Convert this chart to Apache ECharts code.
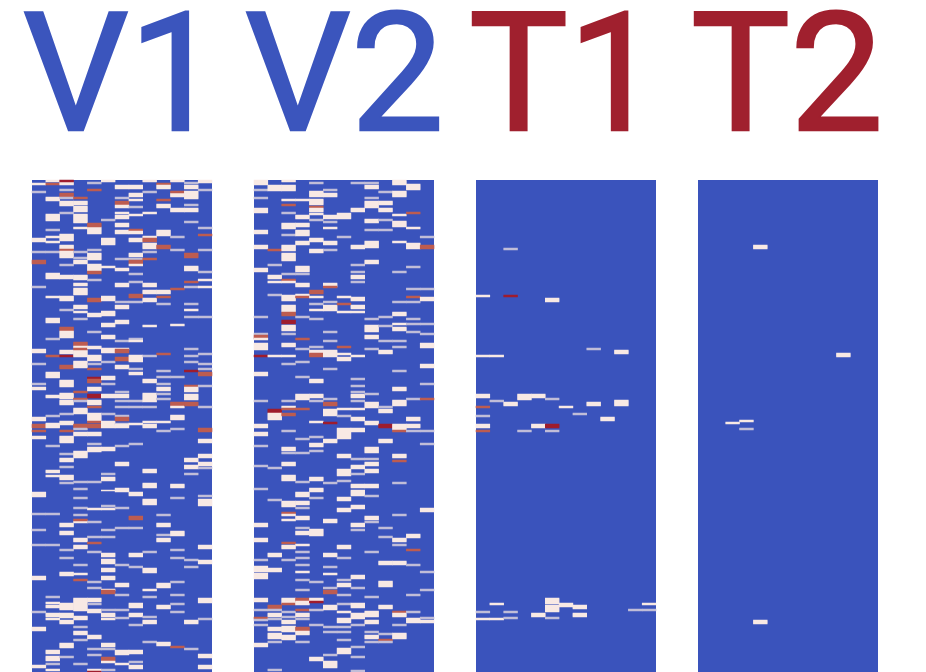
<!DOCTYPE html>
<html><head><meta charset="utf-8">
<style>html,body{margin:0;padding:0;background:#fff}#c{width:926px;height:672px;filter:blur(0.6px)}</style>
<script src="https://cdn.jsdelivr.net/npm/echarts@6/dist/echarts.min.js"></script>
</head><body><div id="c"></div>
<script>
// cell levels
const P=0.5,G=0.35,R=0.75,D=1;
const panelNames=['V1','V2','T1','T2'];
const columnCount=13, rowCount=492;
// each column: [firstRow, rowSpan, level]
const v1=[
[[3,2,P],[11,2,G],[58,4,P],[71,2,G],[80,4,R],[106,2,G],[169,4,P],[183,2,G],[203,2,G],[207,3,P],[237,4,P],[244,4,R],[250,2,R],[256,3,P],[312,5,P],[333,2,G],[349,2,G],[364,2,G],[396,4,P],[431,2,G],[447,4,P],[485,3,P]],
[[0,2,P],[3,2,R],[17,4,P],[34,7,P],[49,2,G],[56,2,P],[61,2,P],[71,2,G],[93,6,P],[116,2,P],[138,5,P],[158,2,G],[175,2,R],[192,6,P],[215,3,P],[235,2,G],[243,5,P],[265,2,G],[290,3,P],[295,2,P],[333,2,G],[364,2,G],[416,2,G],[422,2,P],[425,3,P],[433,4,P],[438,2,P],[470,4,P],[476,5,P],[483,2,G],[489,2,P]],
[[2,3,P],[0,2,D],[9,2,G],[13,4,R],[17,2,G],[21,5,P],[32,2,G],[54,7,P],[65,4,P],[69,2,R],[71,7,P],[84,2,G],[95,4,P],[116,5,P],[129,2,G],[147,4,R],[151,4,P],[155,3,P],[170,4,P],[175,2,D],[185,4,R],[200,7,P],[213,6,P],[220,5,P],[233,2,G],[241,4,P],[250,2,R],[256,7,P],[273,2,G],[278,4,P],[286,2,G],[295,5,P],[302,2,G],[343,4,P],[351,4,P],[369,2,G],[377,2,G],[392,4,P],[423,7,P],[433,5,P],[440,4,P],[463,5,P],[476,2,G]],
[[17,2,R],[21,4,P],[26,6,P],[34,9,P],[47,2,P],[71,2,G],[77,2,G],[80,4,P],[95,5,P],[103,3,P],[108,7,P],[125,4,P],[131,2,P],[138,2,G],[162,4,R],[166,2,P],[170,4,P],[168,2,R],[174,3,P],[181,7,P],[211,2,R],[218,2,R],[220,2,G],[228,6,P],[244,4,R],[248,2,G],[252,4,P],[271,7,P],[301,2,G],[308,2,G],[317,2,G],[327,2,G],[334,2,G],[341,2,P],[339,2,R],[358,4,P],[365,4,P],[384,2,G],[393,2,P],[399,2,R],[418,13,P],[436,4,P],[446,2,G],[451,4,P],[459,2,G],[483,2,G]],
[[2,2,G],[9,2,R],[47,7,P],[43,4,R],[69,2,G],[73,7,P],[84,7,P],[91,3,R],[99,2,G],[118,4,R],[133,4,P],[151,2,G],[166,3,P],[175,6,P],[183,2,G],[188,2,R],[197,2,D],[199,4,R],[207,4,P],[214,4,D],[220,5,P],[226,2,R],[233,8,P],[241,2,R],[244,4,R],[252,4,P],[263,2,G],[267,5,P],[301,2,G],[328,2,P],[341,2,G],[356,2,G],[362,2,R],[371,2,G],[401,2,G],[407,2,G],[418,4,P],[423,2,G],[429,4,P],[455,4,P],[468,2,G],[474,2,G],[489,2,P],[491,1,D]],
[[0,2,P],[39,2,G],[58,7,P],[86,2,P],[116,5,P],[131,5,P],[143,4,P],[155,4,P],[168,5,P],[181,2,G],[196,4,P],[203,2,G],[214,4,P],[233,2,G],[241,7,P],[267,4,P],[293,2,G],[297,4,P],[310,1,P],[325,2,G],[328,2,P],[349,2,G],[356,2,G],[373,4,P],[379,5,P],[388,4,P],[396,4,P],[409,2,P],[410,4,R],[429,2,G],[433,4,P],[438,2,P],[463,4,P],[468,2,G],[477,4,R],[481,2,P],[489,2,G]],
[[5,4,P],[17,2,G],[21,4,R],[25,3,P],[32,2,P],[35,4,P],[43,4,P],[50,4,P],[78,2,G],[88,3,P],[103,4,P],[121,2,G],[125,4,P],[140,4,P],[160,2,G],[168,2,P],[169,4,R],[177,4,R],[185,4,P],[211,2,G],[214,4,P],[220,2,G],[226,2,G],[235,2,G],[237,4,R],[243,2,G],[244,4,P],[265,2,G],[282,4,P],[308,4,P],[327,2,G],[347,2,G],[384,2,G],[403,4,P],[414,2,G],[429,2,G],[437,2,G],[470,5,P],[483,2,P]],
[[5,4,P],[13,4,P],[19,2,P],[26,2,G],[34,2,P],[49,2,R],[51,3,P],[58,4,P],[73,4,P],[78,2,G],[80,4,R],[84,2,P],[93,2,G],[101,2,G],[114,4,R],[121,2,G],[158,2,G],[160,2,P],[175,7,P],[188,2,G],[192,3,P],[220,2,G],[226,2,G],[243,2,P],[263,2,G],[312,4,P],[336,4,R],[347,2,G],[373,4,P],[386,2,G],[423,5,P],[433,4,P],[444,2,G],[470,4,P],[481,2,G],[485,4,P]],
[[0,2,P],[11,2,G],[32,2,P],[56,2,P],[58,4,R],[63,6,P],[71,2,G],[78,2,R],[103,4,P],[110,4,P],[118,4,P],[145,2,P],[175,2,G],[199,4,P],[213,9,P],[226,2,G],[241,2,P],[244,4,P],[289,4,P],[303,5,P],[319,6,P],[371,2,G],[388,5,P],[409,2,P],[416,2,G],[436,2,G],[440,4,P],[461,2,G]],
[[3,2,R],[5,4,P],[19,2,R],[24,4,P],[50,6,P],[65,4,R],[110,4,P],[116,2,R],[123,2,G],[173,2,R],[190,2,G],[196,2,G],[203,2,G],[207,4,P],[213,2,G],[218,2,G],[241,2,P],[250,2,G],[334,2,G],[343,4,P],[354,2,G],[358,4,P],[403,5,P],[425,4,P],[462,4,P]],
[[0,2,P],[13,4,P],[11,2,R],[28,4,P],[56,2,G],[69,2,G],[108,2,R],[144,2,P],[196,2,G],[222,4,R],[226,2,P],[235,5,P],[248,2,G],[304,4,P],[317,2,G],[351,5,P],[369,2,G],[377,2,G],[401,2,G],[414,2,G],[423,2,G],[431,2,G],[466,2,R]],
[[2,2,G],[5,4,P],[11,8,P],[24,2,G],[28,4,P],[41,2,G],[73,5,R],[86,5,P],[101,2,R],[106,2,G],[123,2,G],[129,2,P],[136,2,G],[168,2,G],[175,2,G],[181,2,G],[190,2,D],[205,2,R],[207,5,P],[214,6,P],[222,4,R],[278,4,P],[285,4,P],[293,2,G],[379,2,G],[386,2,G],[440,4,P],[468,2,G]],
[[0,3,P],[9,2,G],[47,2,G],[54,2,R],[69,2,G],[91,2,G],[99,2,P],[106,2,P],[136,2,G],[173,2,G],[183,2,G],[188,2,G],[192,4,R],[205,2,G],[226,2,G],[248,4,R],[259,4,P],[274,4,P],[282,4,P],[287,2,G],[315,2,G],[319,7,P],[365,4,P],[380,4,P],[418,5,P],[438,2,G],[474,4,P],[485,4,P]]
];
const v2=[
[[0,5,P],[9,2,G],[17,2,G],[28,5,P],[50,4,P],[65,4,P],[88,4,P],[136,2,G],[153,2,G],[155,4,R],[158,2,P],[163,7,P],[175,2,D],[192,4,P],[220,2,G],[244,4,P],[252,4,P],[265,2,G],[285,2,G],[308,2,G],[343,4,P],[358,4,P],[379,2,G],[386,6,P],[393,6,P],[418,4,P],[429,2,G],[437,2,R],[439,2,G],[444,2,G],[463,4,P]],
[[5,6,P],[69,2,R],[84,2,G],[95,4,P],[101,2,P],[114,2,G],[175,2,P],[229,4,D],[233,7,P],[287,2,G],[319,2,G],[373,4,P],[388,4,P],[425,4,R],[429,2,G],[433,4,P],[438,2,G],[447,4,P],[453,6,P],[461,2,G],[489,2,G]],
[[0,2,P],[5,6,P],[19,2,P],[24,2,R],[32,2,G],[43,6,P],[54,2,G],[65,6,P],[73,8,P],[93,2,G],[99,2,R],[101,2,P],[115,6,P],[125,7,P],[132,4,R],[140,4,D],[145,6,P],[153,2,G],[163,4,P],[175,2,P],[183,2,G],[220,2,G],[226,2,P],[228,2,R],[233,3,R],[250,2,G],[267,4,P],[272,2,G],[282,4,P],[295,6,P],[321,6,P],[332,2,R],[334,2,P],[339,2,P],[362,2,R],[365,4,P],[379,2,G],[418,6,P],[423,2,R],[431,2,G],[436,2,G],[440,4,P],[446,6,P],[455,5,P]],
[[19,2,P],[35,4,P],[43,4,P],[50,6,P],[61,4,P],[86,6,P],[93,2,G],[103,4,P],[114,2,P],[116,2,R],[136,2,G],[158,2,R],[168,2,G],[181,2,G],[196,2,G],[214,6,P],[228,2,R],[258,2,G],[272,2,G],[301,2,G],[312,5,P],[321,4,P],[327,2,G],[336,4,P],[347,2,G],[351,4,P],[364,2,P],[371,2,G],[377,2,G],[384,2,G],[391,2,P],[399,2,G],[409,2,G],[418,4,R],[421,4,P],[429,2,R],[433,4,P],[438,2,G],[447,4,R],[451,4,P],[461,2,G]],
[[2,2,G],[11,6,P],[19,6,P],[26,2,R],[28,4,P],[33,2,P],[39,2,G],[58,4,P],[69,4,P],[110,4,R],[116,2,P],[123,2,G],[129,2,P],[138,2,G],[166,2,G],[170,4,P],[173,4,R],[199,4,P],[214,4,P],[220,2,G],[241,2,P],[256,2,G],[263,4,P],[270,2,G],[297,4,P],[308,4,P],[317,2,G],[349,7,P],[401,2,G],[418,3,P],[421,2,D],[429,2,G],[444,2,G],[477,4,P]],
[[9,2,G],[13,4,P],[35,4,P],[41,2,G],[47,2,P],[61,4,P],[69,2,G],[103,4,P],[106,2,R],[121,2,G],[125,6,P],[151,2,G],[160,2,G],[170,7,P],[188,2,G],[218,2,G],[222,4,R],[229,7,P],[242,2,D],[259,4,P],[302,2,G],[339,4,P],[373,4,P],[386,2,G],[393,2,P],[407,2,G],[410,4,R],[425,5,P],[446,2,G],[451,2,G],[474,2,G],[481,7,P]],
[[33,6,P],[56,2,G],[116,2,P],[123,2,R],[131,2,P],[166,2,R],[173,2,P],[177,4,P],[228,2,P],[235,2,G],[248,11,P],[274,4,P],[289,7,P],[300,2,G],[317,4,P],[328,4,P],[365,4,P],[377,2,G],[399,2,G],[403,4,P],[414,2,G],[423,2,G],[431,2,P],[438,5,P],[446,2,G],[451,2,G],[459,2,G],[468,6,P]],
[[2,2,G],[28,4,P],[65,4,P],[84,2,G],[91,2,G],[95,4,P],[101,2,G],[117,4,P],[125,4,P],[131,2,P],[175,2,P],[198,2,G],[205,2,G],[211,2,G],[214,4,P],[220,2,G],[228,2,P],[237,4,P],[248,4,P],[278,2,G],[285,4,P],[293,2,G],[304,4,P],[310,6,P],[325,4,P],[343,4,P],[349,2,G],[395,4,P],[407,2,G],[423,5,P],[433,6,P],[444,2,G],[466,2,G],[476,2,G],[490,2,G]],
[[2,2,G],[5,4,P],[17,2,G],[21,7,P],[39,4,P],[49,2,G],[61,7,P],[80,4,P],[138,2,G],[145,7,P],[155,4,P],[168,2,G],[213,2,G],[222,6,P],[241,4,P],[267,6,P],[278,2,G],[282,4,P],[289,4,P],[304,4,P],[315,2,G],[336,4,P],[341,2,G],[371,2,G],[416,2,G],[431,6,P],[440,4,P],[451,2,G],[455,4,P],[461,2,G]],
[[11,2,G],[21,4,P],[28,4,P],[39,2,G],[49,2,G],[136,2,G],[145,2,G],[160,2,G],[170,4,P],[226,2,G],[229,4,P],[244,4,D],[259,4,P],[347,2,G],[356,2,G],[381,4,P],[401,6,P],[425,4,P],[453,2,G],[459,2,R],[461,2,G]],
[[0,5,P],[11,6,P],[34,2,P],[41,6,P],[61,2,P],[91,2,G],[121,2,G],[132,4,P],[143,2,P],[147,4,P],[160,2,G],[166,2,G],[190,2,G],[207,4,P],[220,6,P],[244,6,P],[250,2,R],[274,4,P],[280,2,R],[302,2,G],[334,2,G],[358,4,P],[364,2,G],[381,4,P],[431,2,R],[433,4,P],[444,2,G],[453,6,P]],
[[4,6,P],[32,2,R],[47,2,P],[63,6,P],[86,2,G],[108,2,G],[116,2,R],[121,2,G],[138,2,G],[143,2,G],[151,2,G],[218,2,G],[237,4,P],[244,4,P],[250,2,G],[354,4,P],[369,2,R],[384,2,G],[414,2,G],[431,2,G],[438,5,P]],
[[56,2,G],[65,4,R],[108,2,G],[117,4,P],[143,2,G],[153,2,G],[163,5,P],[184,4,P],[203,2,G],[218,2,R],[250,2,G],[263,2,G],[328,4,P],[391,2,G],[409,2,G],[437,2,G],[440,3,P]]
];
const t1=[
[[115,2,P],[175,2,P],[214,4,P],[226,2,R],[235,2,G],[244,4,P],[250,2,R],[431,2,G],[438,2,P]],
[[175,2,P],[220,2,G],[423,2,P],[438,2,P]],
[[68,2,G],[115,2,D],[222,4,P],[431,2,G],[437,2,G]],
[[214,6,P],[250,2,G]],
[[214,4,P],[244,4,P],[433,4,P]],
[[118,4,P],[218,2,G],[244,4,D],[250,2,G],[418,6,P],[425,7,P],[437,2,G]],
[[226,2,P],[423,4,P]],
[[233,2,G],[425,4,P],[433,4,P]],
[[168,2,G],[222,4,P]],
[[237,4,P]],
[[170,4,P],[220,6,P]],
[[429,2,G]],
[[423,2,P],[429,2,G]]
];
const t2=[[],[],[[242,2,P]],[[240,2,P],[248,2,G]],[[65,4,P],[440,4,P]],[],[],[],[],[],[[173,4,P]],[],[]];
const panelColumns=[v1,v2,t1,t2];
const panelLefts=[32,254,476,698];
const titleLefts=[23,245,469,691];
const titleColors=['#3b55bd','#3b55bd','#a0202e','#a0202e'];

const columns=Array.from({length:columnCount},(_,i)=>String(i));
const rows=Array.from({length:rowCount},(_,i)=>String(i));
const grid=[],xAxis=[],yAxis=[],series=[],title=[];
panelColumns.forEach((cols,p)=>{
  grid.push({left:panelLefts[p],top:180,width:180,height:rowCount,show:true,backgroundColor:'#3a53bc',borderWidth:0});
  xAxis.push({type:'category',gridIndex:p,data:columns,show:false});
  yAxis.push({type:'category',gridIndex:p,data:rows,inverse:true,show:false});
  const cells=[];
  cols.forEach((spans,c)=>spans.forEach(([r,n,v])=>{for(let k=0;k<n;k++) if(r+k<rowCount) cells.push([c,r+k,v]);}));
  series.push({type:'heatmap',xAxisIndex:p,yAxisIndex:p,data:cells,animation:false,progressive:0,silent:true,itemStyle:{borderWidth:0}});
  title.push({text:panelNames[p],left:titleLefts[p],top:5,padding:0,textStyle:{fontFamily:'Roboto',fontSize:166,fontWeight:'normal',color:titleColors[p],textBorderColor:titleColors[p],textBorderWidth:2.5}});
});
const chart=echarts.init(document.getElementById('c'),null,{renderer:'canvas'});
chart.setOption({animation:false,backgroundColor:'#fff',title,grid,xAxis,yAxis,series,
  visualMap:{show:false,type:'continuous',min:0,max:1,seriesIndex:[0,1,2,3],inRange:{color:['#3a53bc','#9ba0d0','#f8e9e4','#bd5c50','#9f1c2e']}}});
</script></body></html>
